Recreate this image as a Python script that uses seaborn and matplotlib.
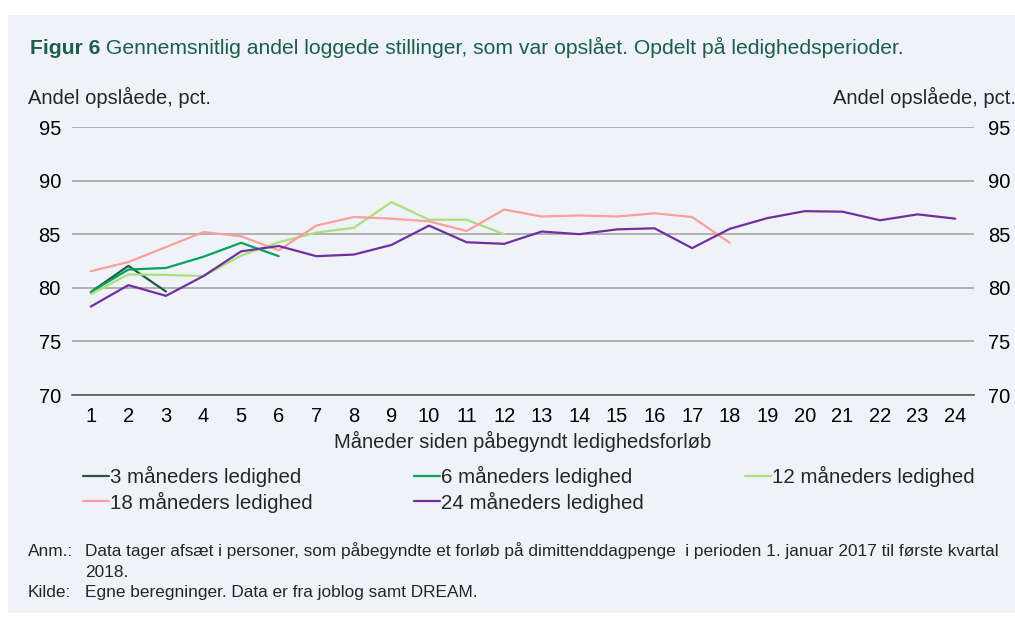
import matplotlib
matplotlib.use("Agg")
import matplotlib.pyplot as plt
import seaborn as sns
import pandas as pd
from matplotlib.patches import Rectangle
from matplotlib.ticker import FixedLocator

# ---- data ----
months = list(range(1, 25))
series_names = ["3 måneders ledighed", "6 måneders ledighed", "12 måneders ledighed",
                "18 måneders ledighed", "24 måneders ledighed"]
s3 = [79.6, 82.05, 79.65]
s6 = [79.6, 81.7, 81.85, 82.9, 84.2, 82.95]
s12 = [79.4, 81.25, 81.2, 81.1, 83.0, 84.25, 85.15, 85.6, 88.0, 86.35, 86.35, 85.0]
s18 = [81.55, 82.4, 83.8, 85.2, 84.8, 83.5, 85.8, 86.6, 86.45, 86.2, 85.3, 87.3,
       86.65, 86.75, 86.65, 86.95, 86.6, 84.2]
s24 = [78.25, 80.25, 79.25, 81.1, 83.4, 83.9, 82.95, 83.1, 84.0, 85.8, 84.25, 84.1,
       85.25, 85.0, 85.45, 85.55, 83.7, 85.5, 86.5, 87.15, 87.1, 86.3, 86.85, 86.45]
y_ticks = [70, 75, 80, 85, 90, 95]
colors = ["#1E5B47", "#00A25E", "#A9E27C", "#FF9E9E", "#7030A0"]

title_bold = "Figur 6"
title_rest = " Gennemsnitlig andel loggede stillinger, som var opslået. Opdelt på ledighedsperioder."
y_label = "Andel opslåede, pct."
x_label = "Måneder siden påbegyndt ledighedsforløb"
note1 = "Data tager afsæt i personer, som påbegyndte et forløb på dimittenddagpenge  i perioden 1. januar 2017 til første kvartal"
note2 = "2018."
source = "Egne beregninger. Data er fra joblog samt DREAM."

rows = []
for name, vals in zip(series_names, [s3, s6, s12, s18, s24]):
    for m, v in zip(months, vals):
        rows.append({"Måned": m, "Andel": v, "Serie": name})
df = pd.DataFrame(rows)

sns.set_style("white")
plt.rcParams["font.family"] = ["Liberation Sans", "DejaVu Sans"]

W, H = 1015, 618
fig = plt.figure(figsize=(W / 100, H / 100), dpi=100)
fig.patch.set_facecolor("white")
fig.add_artist(Rectangle((8 / W, 1 - 613 / H), (W - 8) / W, (613 - 15) / H,
                         transform=fig.transFigure, facecolor="#EFF3F7",
                         edgecolor="none", zorder=-10))

ax = fig.add_axes([72 / W, 1 - 395 / H, (974 - 72) / W, (395 - 127) / H])
ax.patch.set_alpha(0)

sns.lineplot(data=df, x="Måned", y="Andel", hue="Serie", hue_order=series_names,
             palette=colors, linewidth=1.6, ax=ax, legend=True)

ax.set_xlim(0.5, 24.5)
ax.set_ylim(70, 95)
ax.set_yticks(y_ticks)
ax.set_xticks(months)
ax.xaxis.set_minor_locator(FixedLocator([m - 0.5 for m in months] + [24.5]))
ax.tick_params(axis="x", which="major", length=0, pad=9, labelsize=14.5, colors="black")
ax.tick_params(axis="x", which="minor", length=6, width=1.2, color="#595959", direction="out")
ax.tick_params(axis="y", length=0, pad=8, labelsize=14.5, colors="black")
ax.set_xlabel(x_label, fontsize=14.5, labelpad=3)
ax.set_ylabel("")
ax.grid(axis="y", color="#A6A6A6", linewidth=1.2)
ax.grid(axis="x", visible=False)
for sp in ["top", "left", "right"]:
    ax.spines[sp].set_visible(False)
ax.spines["bottom"].set_color("#595959")
ax.spines["bottom"].set_linewidth(1.2)

ax2 = ax.twinx()
ax2.set_ylim(70, 95)
ax2.set_yticks(y_ticks)
ax2.tick_params(axis="y", length=0, pad=10, labelsize=14.5, colors="black")
for sp in ax2.spines.values():
    sp.set_visible(False)
ax2.grid(False)

# legend
handles, labels = ax.get_legend_handles_labels()
ax.get_legend().remove()
order = [0, 3, 1, 4, 2]
leg = fig.legend([handles[i] for i in order], [labels[i] for i in order], ncol=3,
                 loc="upper left", bbox_to_anchor=(83 / W, 1 - 466 / H),
                 frameon=False, fontsize=14.8, handlelength=1.25, handletextpad=0.05,
                 columnspacing=4.95, labelspacing=0.22, borderaxespad=0, borderpad=0)
for lh in leg.get_lines():
    lh.set_linewidth(1.6)

# texts
ty = 1 - 54 / H
t1 = fig.text(30 / W, ty, title_bold, fontsize=15.2, fontweight="bold",
              color="#1B5E4B", va="baseline", ha="left")
fig.canvas.draw()
bb = t1.get_window_extent(renderer=fig.canvas.get_renderer())
fig.text(bb.x1 / W, ty, title_rest, fontsize=15.2, color="#1B5E4B",
         va="baseline", ha="left")

fig.text(28 / W, 1 - 97 / H, y_label, fontsize=14.5, va="center", ha="left")
fig.text(1016 / W, 1 - 97 / H, y_label, fontsize=14.5, va="center", ha="right")

fs = 12.4
fig.text(28 / W, 1 - 556 / H, "Anm.:", fontsize=fs, va="baseline", ha="left")
fig.text(85 / W, 1 - 556 / H, note1, fontsize=fs, va="baseline", ha="left")
fig.text(85 / W, 1 - 577 / H, note2, fontsize=fs, va="baseline", ha="left")
fig.text(28 / W, 1 - 597 / H, "Kilde:", fontsize=fs, va="baseline", ha="left")
fig.text(85 / W, 1 - 597 / H, source, fontsize=fs, va="baseline", ha="left")

fig.savefig("out.png", dpi=100)
